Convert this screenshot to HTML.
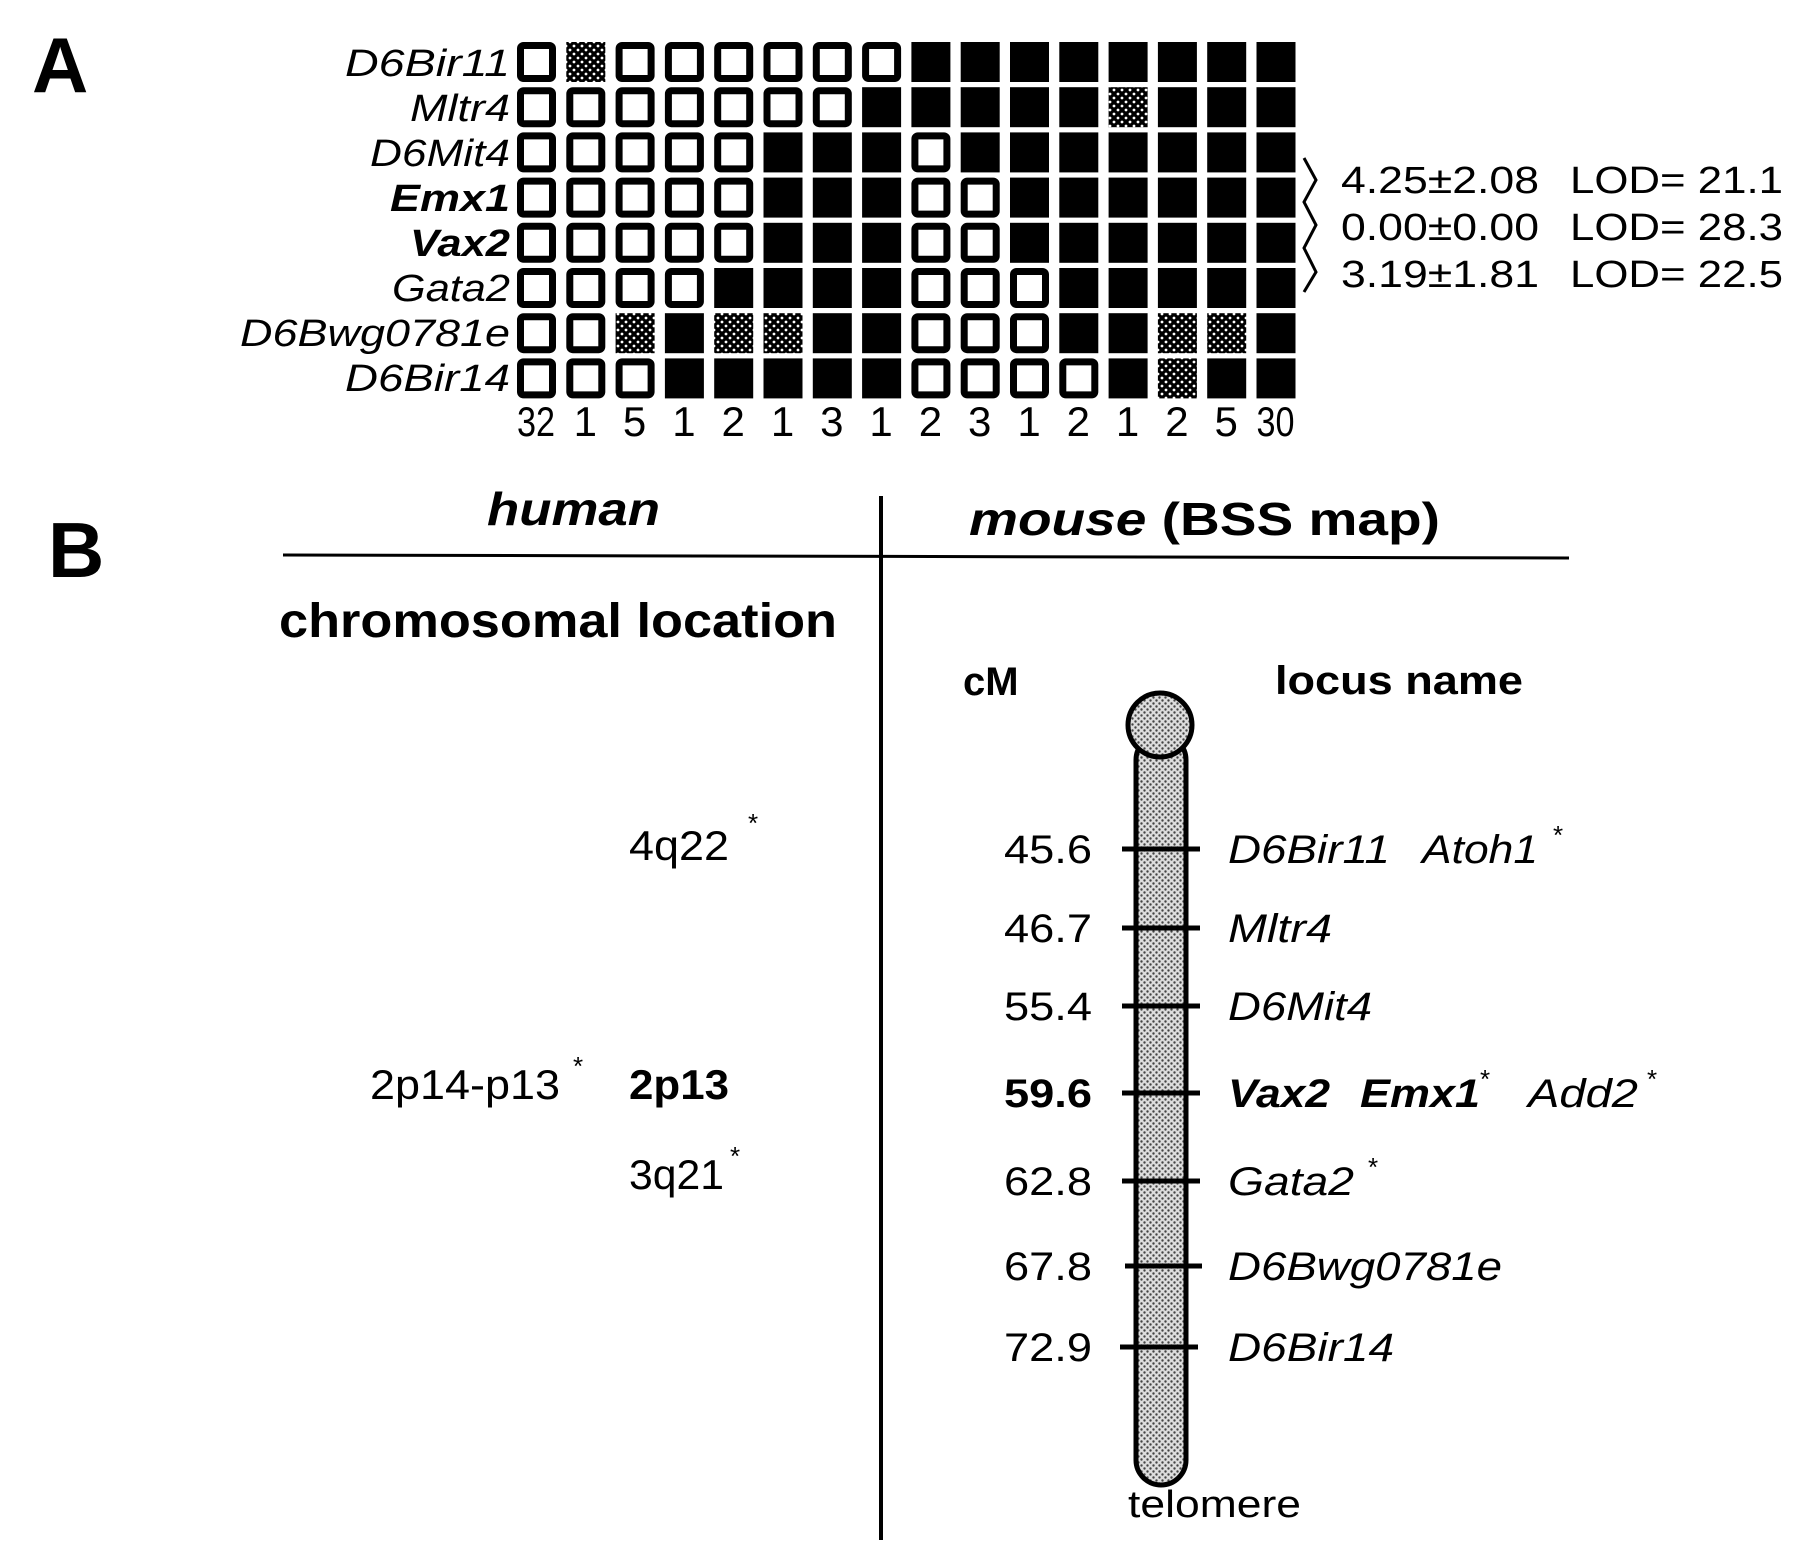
<!DOCTYPE html>
<html><head><meta charset="utf-8"><style>
html,body{margin:0;padding:0;background:#fff;}
svg{display:block;}
text{font-family:"Liberation Sans",sans-serif;fill:#000;}
.it{font-style:italic;}
.b{font-weight:bold;}
.tm{font-family:"Liberation Serif",serif;}
</style></head><body>
<svg width="1800" height="1555" viewBox="0 0 1800 1555" xmlns="http://www.w3.org/2000/svg">
<defs>
<pattern id="dk" width="8" height="8" patternUnits="userSpaceOnUse">
<rect width="8" height="8" fill="#000"/><circle cx="2" cy="2" r="1.4" fill="#fff"/><circle cx="6" cy="6" r="1.4" fill="#fff"/>
</pattern>
<pattern id="lt" width="6" height="6" patternUnits="userSpaceOnUse">
<rect width="6" height="6" fill="#ddd"/><circle cx="1.5" cy="1.5" r="1.2" fill="#444"/><circle cx="4.5" cy="4.5" r="1.2" fill="#444"/>
</pattern>
</defs>
<text x="32" y="92" class="b" font-size="78">A</text>
<text x="48" y="577" class="b" font-size="78">B</text>
<g id="grid"></g>
<g font-size="38" class="it" text-anchor="end">
<text x="510" y="76" textLength="165" lengthAdjust="spacingAndGlyphs">D6Bir11</text>
<text x="510" y="121" textLength="100" lengthAdjust="spacingAndGlyphs">Mltr4</text>
<text x="510" y="166" textLength="140" lengthAdjust="spacingAndGlyphs">D6Mit4</text>
<text x="510" y="211" class="b" textLength="120" lengthAdjust="spacingAndGlyphs">Emx1</text>
<text x="510" y="256" class="b" textLength="100" lengthAdjust="spacingAndGlyphs">Vax2</text>
<text x="510" y="301" textLength="118" lengthAdjust="spacingAndGlyphs">Gata2</text>
<text x="510" y="346" textLength="270" lengthAdjust="spacingAndGlyphs">D6Bwg0781e</text>
<text x="510" y="391" textLength="165" lengthAdjust="spacingAndGlyphs">D6Bir14</text>
</g>
<g class="tm" font-size="42" text-anchor="middle" id="nums"></g>
<polyline points="1304,158 1316,180 1304,202 1316,225 1304,248 1316,272 1304,292" fill="none" stroke="#000" stroke-width="3"/>
<g font-size="38">
<text x="1341" y="193" textLength="198" lengthAdjust="spacingAndGlyphs">4.25±2.08</text>
<text x="1570" y="193" textLength="213" lengthAdjust="spacingAndGlyphs">LOD= 21.1</text>
<text x="1341" y="240" textLength="198" lengthAdjust="spacingAndGlyphs">0.00±0.00</text>
<text x="1570" y="240" textLength="213" lengthAdjust="spacingAndGlyphs">LOD= 28.3</text>
<text x="1341" y="287" textLength="198" lengthAdjust="spacingAndGlyphs">3.19±1.81</text>
<text x="1570" y="287" textLength="213" lengthAdjust="spacingAndGlyphs">LOD= 22.5</text>
</g>
<!-- part B -->
<text x="487" y="525" class="b it" font-size="46" textLength="173" lengthAdjust="spacingAndGlyphs">human</text>
<text x="969" y="535" font-size="46" class="b" textLength="471" lengthAdjust="spacingAndGlyphs"><tspan class="it">mouse</tspan> (BSS map)</text>
<line x1="283" y1="555" x2="1569" y2="558" stroke="#000" stroke-width="3"/>
<line x1="881" y1="496" x2="881" y2="1540" stroke="#000" stroke-width="4"/>
<text x="279" y="637" class="b" font-size="48" textLength="558" lengthAdjust="spacingAndGlyphs">chromosomal location</text>
<text x="963" y="695" class="b" font-size="40">cM</text>
<text x="1275" y="694" class="b" font-size="40" textLength="248" lengthAdjust="spacingAndGlyphs">locus name</text>
<g font-size="42">
<text x="629" y="860" textLength="100" lengthAdjust="spacingAndGlyphs">4q22</text><text x="748" y="832" font-size="26">*</text>
<text x="370" y="1099" textLength="190" lengthAdjust="spacingAndGlyphs">2p14-p13</text><text x="573" y="1075" font-size="26">*</text>
<text x="629" y="1099" class="b" textLength="100" lengthAdjust="spacingAndGlyphs">2p13</text>
<text x="629" y="1189" textLength="95" lengthAdjust="spacingAndGlyphs">3q21</text><text x="730" y="1165" font-size="26">*</text>
</g>
<!-- chromosome -->
<rect x="1136" y="735" width="50" height="750" rx="25" fill="url(#lt)" stroke="#000" stroke-width="5"/>
<circle cx="1160" cy="725" r="32" fill="url(#lt)" stroke="#000" stroke-width="5"/>
<g stroke="#000" stroke-width="5">
<line x1="1122" y1="849" x2="1200" y2="849"/>
<line x1="1122" y1="928" x2="1200" y2="928"/>
<line x1="1122" y1="1006" x2="1200" y2="1006"/>
<line x1="1122" y1="1093" x2="1200" y2="1093"/>
<line x1="1122" y1="1181" x2="1200" y2="1181"/>
<line x1="1125" y1="1266" x2="1202" y2="1266"/>
<line x1="1120" y1="1347" x2="1198" y2="1347"/>
</g>
<g font-size="40" text-anchor="end">
<text x="1092" y="863" textLength="88" lengthAdjust="spacingAndGlyphs">45.6</text>
<text x="1092" y="942" textLength="88" lengthAdjust="spacingAndGlyphs">46.7</text>
<text x="1092" y="1020" textLength="88" lengthAdjust="spacingAndGlyphs">55.4</text>
<text x="1092" y="1107" class="b" textLength="88" lengthAdjust="spacingAndGlyphs">59.6</text>
<text x="1092" y="1195" textLength="88" lengthAdjust="spacingAndGlyphs">62.8</text>
<text x="1092" y="1280" textLength="88" lengthAdjust="spacingAndGlyphs">67.8</text>
<text x="1092" y="1361" textLength="88" lengthAdjust="spacingAndGlyphs">72.9</text>
</g>
<g font-size="40" class="it">
<text x="1228" y="863" textLength="162" lengthAdjust="spacingAndGlyphs">D6Bir11</text><text x="1422" y="863" textLength="116" lengthAdjust="spacingAndGlyphs">Atoh1</text><text x="1553" y="844" font-size="26" font-style="normal">*</text>
<text x="1228" y="942" textLength="104" lengthAdjust="spacingAndGlyphs">Mltr4</text>
<text x="1228" y="1020" textLength="144" lengthAdjust="spacingAndGlyphs">D6Mit4</text>
<text x="1228" y="1107" class="b" textLength="102" lengthAdjust="spacingAndGlyphs">Vax2</text><text x="1360" y="1107" class="b" textLength="120" lengthAdjust="spacingAndGlyphs">Emx1</text><text x="1480" y="1088" font-size="26" font-style="normal">*</text>
<text x="1528" y="1107" textLength="110" lengthAdjust="spacingAndGlyphs">Add2</text><text x="1647" y="1088" font-size="26" font-style="normal">*</text>
<text x="1228" y="1195" textLength="126" lengthAdjust="spacingAndGlyphs">Gata2</text><text x="1368" y="1176" font-size="26" font-style="normal">*</text>
<text x="1228" y="1280" textLength="274" lengthAdjust="spacingAndGlyphs">D6Bwg0781e</text>
<text x="1228" y="1361" textLength="166" lengthAdjust="spacingAndGlyphs">D6Bir14</text>
</g>
<text x="1128" y="1517" font-size="38" textLength="173" lengthAdjust="spacingAndGlyphs">telomere</text>
<script>
var rows=["0200000011111111","0000000111112111","0000011101111111","0000011100111111","0000011100111111","0000111100011111","0021221100011221","0001111100001211"];
var g=document.getElementById('grid'),ns="http://www.w3.org/2000/svg";
for(var r=0;r<8;r++)for(var c=0;c<16;c++){var t=rows[r][c],e=document.createElementNS(ns,'rect');
var x=517+c*49.3,y=42+r*45.2;
if(t=='0'){e.setAttribute('x',x+3.5);e.setAttribute('y',y+3.5);e.setAttribute('width',32);e.setAttribute('height',33);e.setAttribute('fill','#fff');e.setAttribute('stroke','#000');e.setAttribute('stroke-width',7);e.setAttribute('rx',3);}
else{e.setAttribute('x',x);e.setAttribute('y',y);e.setAttribute('width',39);e.setAttribute('height',40);e.setAttribute('fill',t=='1'?'#000':'url(#dk)');}
g.appendChild(e);}
var n=["32","1","5","1","2","1","3","1","2","3","1","2","1","2","5","30"],ng=document.getElementById('nums');
for(var c=0;c<16;c++){var e=document.createElementNS(ns,'text');e.setAttribute('x',536+c*49.3);e.setAttribute('y',436);if(n[c].length>1){e.setAttribute('textLength',38);e.setAttribute('lengthAdjust','spacingAndGlyphs');}e.textContent=n[c];ng.appendChild(e);}
</script>
</svg>
</body></html>
